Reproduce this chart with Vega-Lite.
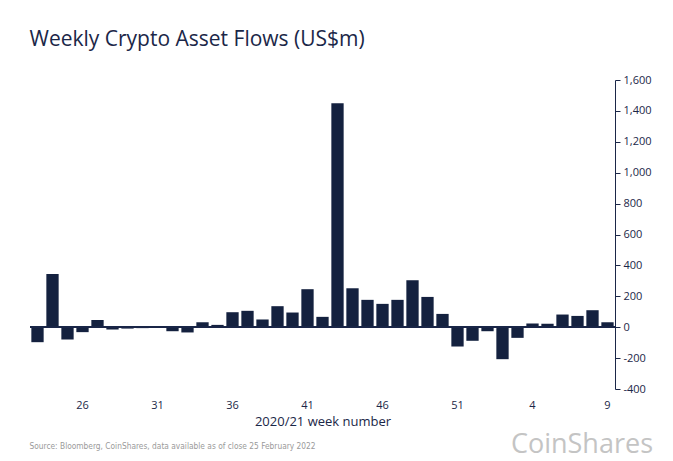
{
  "$schema": "https://vega.github.io/schema/vega-lite/v6.json",
  "background": "white",
  "padding": {"left": 29, "top": 29, "right": 6, "bottom": 4},
  "title": {"text": "Weekly Crypto Asset Flows (US$m)", "anchor": "start", "fontSize": 21, "font": "Open Sans", "fontWeight": 500, "color": "#1b2748", "offset": 24},
  "config": {"view": {"stroke": null}, "concat": {"spacing": 0}, "font": "Open Sans"},
  "vconcat": [{
    "title": {"text": "CoinShares", "orient": "bottom", "anchor": "end", "fontSize": 27, "font": "Open Sans", "fontWeight": 400, "color": "#c4c4c4", "offset": -18, "dx": 2},
    "vconcat": [{
      "title": {"text": "Source: Bloomberg, CoinShares, data available as of close 25 February 2022", "orient": "bottom", "anchor": "start", "fontSize": 8.3, "font": "DejaVu Sans Condensed, Roboto", "fontWeight": 400, "color": "#9a9a9a", "offset": 14},
      "width": 585,
      "height": 309,
      "data": {"values": [
        {"week": "23", "flow": -97}, {"week": "24", "flow": 345}, {"week": "25", "flow": -80}, {"week": "26", "flow": -32},
        {"week": "27", "flow": 47}, {"week": "28", "flow": -15}, {"week": "29", "flow": -9}, {"week": "30", "flow": -6},
        {"week": "31", "flow": -3}, {"week": "32", "flow": -26}, {"week": "33", "flow": -34}, {"week": "34", "flow": 32},
        {"week": "35", "flow": 15}, {"week": "36", "flow": 97}, {"week": "37", "flow": 106}, {"week": "38", "flow": 50},
        {"week": "39", "flow": 136}, {"week": "40", "flow": 95}, {"week": "41", "flow": 246}, {"week": "42", "flow": 67},
        {"week": "43", "flow": 1450}, {"week": "44", "flow": 252}, {"week": "45", "flow": 177}, {"week": "46", "flow": 151},
        {"week": "47", "flow": 177}, {"week": "48", "flow": 304}, {"week": "49", "flow": 196}, {"week": "50", "flow": 86},
        {"week": "51", "flow": -125}, {"week": "52", "flow": -88}, {"week": "1", "flow": -26}, {"week": "2", "flow": -207},
        {"week": "3", "flow": -69}, {"week": "4", "flow": 24}, {"week": "5", "flow": 22}, {"week": "6", "flow": 82},
        {"week": "7", "flow": 73}, {"week": "8", "flow": 110}, {"week": "9", "flow": 32}
      ]},
      "resolve": {"axis": {"y": "independent"}},
      "layer": [
        {
          "mark": {"type": "bar", "color": "#14213f"},
          "encoding": {
            "x": {"field": "week", "type": "nominal", "sort": null,
              "scale": {"paddingInner": 0.18, "paddingOuter": 0.09},
              "axis": {"values": ["26", "31", "36", "41", "46", "51", "4", "9"], "labelAngle": 0, "domain": false, "ticks": false,
                "labelFontSize": 11, "labelColor": "#1b2748", "labelPadding": 10,
                "title": "2020/21 week number", "titleFontSize": 13, "titleFontWeight": 400, "titleColor": "#1b2748", "titlePadding": 5}},
            "y": {"field": "flow", "type": "quantitative",
              "scale": {"domain": [-400, 1600], "nice": false},
              "axis": {"orient": "right", "values": [-400, -200, 0, 200, 400, 600, 800, 1000, 1200, 1400, 1600],
                "labelExpr": "replace(format(datum.value, ',.0f'), '\u2212', '-')",
                "labelOverlap": false, "grid": false, "domainColor": "#1b2748", "tickColor": "#1b2748", "tickSize": 5, "labelPadding": 3,
                "labelFontSize": 11, "labelColor": "#1b2748", "title": null}}
          }
        },
        {
          "mark": {"type": "rule", "color": "#1b2748", "strokeWidth": 1},
          "encoding": {"y": {"datum": 0, "type": "quantitative", "axis": null}}
        }
      ]
    }]
  }]
}
